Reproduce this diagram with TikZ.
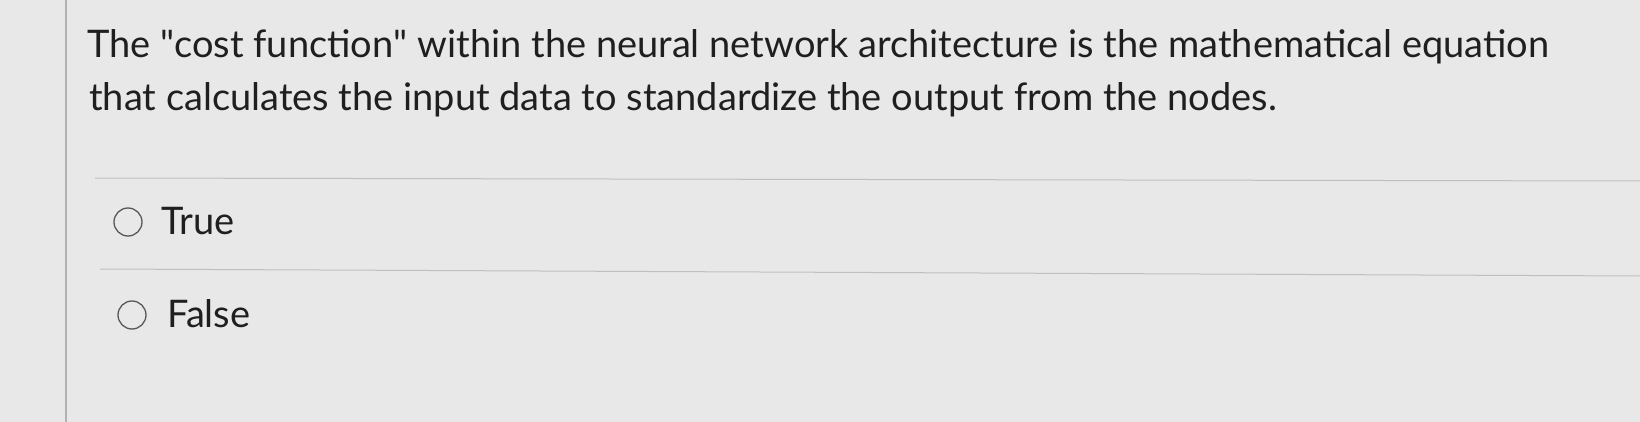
\documentclass[tikz,border=0pt]{standalone}
\usepackage{fontspec}
\setmainfont{Lato}
\begin{document}
\begin{tikzpicture}[x=1pt,y=-1pt,
  qtext/.style={anchor=base west,inner sep=0pt,font=\fontsize{38}{44}\selectfont,text=black!88},
  radio/.style={circle,draw=black!65,line width=1.3pt,minimum size=28pt,inner sep=0pt},
  rule/.style={draw=black!25,line width=1pt}]
\fill[black!9] (0,0) rectangle (1640,422);
\useasboundingbox (0,0) rectangle (1640,422);
\draw[draw=black!30,line width=1.2pt] (66,0) -- (66,422);
\node[qtext] (l1) at (87,58) {The \textquotedbl cost function\textquotedbl{} within the neural network architecture is the mathematical equation};
\node[qtext] (l2) at (89,111) {that calculates the input data to standardize the output from the nodes.};
\coordinate (r1a) at (95,178); \coordinate (r1b) at (1640,181);
\draw[rule] (r1a) -- (r1b);
\coordinate (r2a) at (100,269); \coordinate (r2b) at (1640,276);
\draw[rule] (r2a) -- (r2b);
\node[radio] (c1) at (128,222) {};
\node[qtext] (t1) at (161,234) {True};
\node[radio] (c2) at (132,315) {};
\node[qtext] (t2) at (167,327) {False};
\end{tikzpicture}
\end{document}
